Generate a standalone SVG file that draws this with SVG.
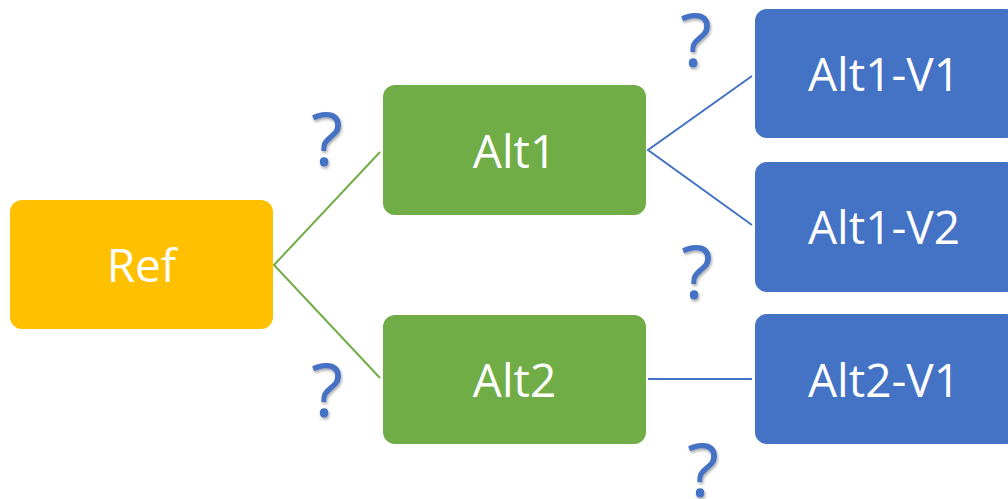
<svg xmlns="http://www.w3.org/2000/svg" width="1008" height="499" viewBox="0 0 1008 499">
<style>
.lbl{font-family:"Segoe UI","Open Sans","Noto Sans",sans-serif;font-size:46px;fill:#ffffff;text-anchor:middle}
.q{font-family:"Segoe UI","Open Sans","Noto Sans",sans-serif;font-size:74px;fill:#4472C4;text-anchor:middle;filter:url(#sh)}
.g{stroke:#70AD47;stroke-width:2;fill:none}
.b{stroke:#4472C4;stroke-width:2;fill:none}
</style>
<defs>
<filter id="sh" x="-30%" y="-30%" width="160%" height="160%">
<feGaussianBlur in="SourceAlpha" stdDeviation="1.5"/>
<feOffset dx="1" dy="2" result="o"/>
<feComponentTransfer><feFuncA type="linear" slope="0.35"/></feComponentTransfer>
<feMerge><feMergeNode/><feMergeNode in="SourceGraphic"/></feMerge>
</filter>
</defs>
<rect width="1008" height="499" fill="#ffffff"/>
<g id="connectors">
<polyline class="g" points="380,152 274,265 380,378"/>
<polyline class="b" points="752,76 648,150 752,225"/>
<line class="b" x1="648" y1="379" x2="752" y2="379"/>
</g>
<g id="ref"><rect x="10" y="200" width="263" height="129" rx="12" fill="#FFC000"/><text class="lbl" x="141.5" y="282">Ref</text></g>
<g id="alt1"><rect x="383" y="85" width="263" height="130" rx="12" fill="#70AD47"/><text class="lbl" x="514.5" y="168">Alt1</text></g>
<g id="alt2"><rect x="383" y="315" width="263" height="129" rx="12" fill="#70AD47"/><text class="lbl" x="514.5" y="397">Alt2</text></g>
<g id="alt1-v1"><rect x="755" y="9" width="263" height="129" rx="12" fill="#4472C4"/><text class="lbl" x="884" y="91">Alt1-V1</text></g>
<g id="alt1-v2"><rect x="755" y="162" width="263" height="130" rx="12" fill="#4472C4"/><text class="lbl" x="884" y="244">Alt1-V2</text></g>
<g id="alt2-v1"><rect x="755" y="314" width="263" height="130" rx="12" fill="#4472C4"/><text class="lbl" x="884" y="397">Alt2-V1</text></g>
<g id="marks">
<text class="q" x="327" y="166">?</text>
<text class="q" x="327" y="417">?</text>
<text class="q" x="696" y="67">?</text>
<text class="q" x="697" y="299">?</text>
<text class="q" x="703" y="497">?</text>
</g>
</svg>
